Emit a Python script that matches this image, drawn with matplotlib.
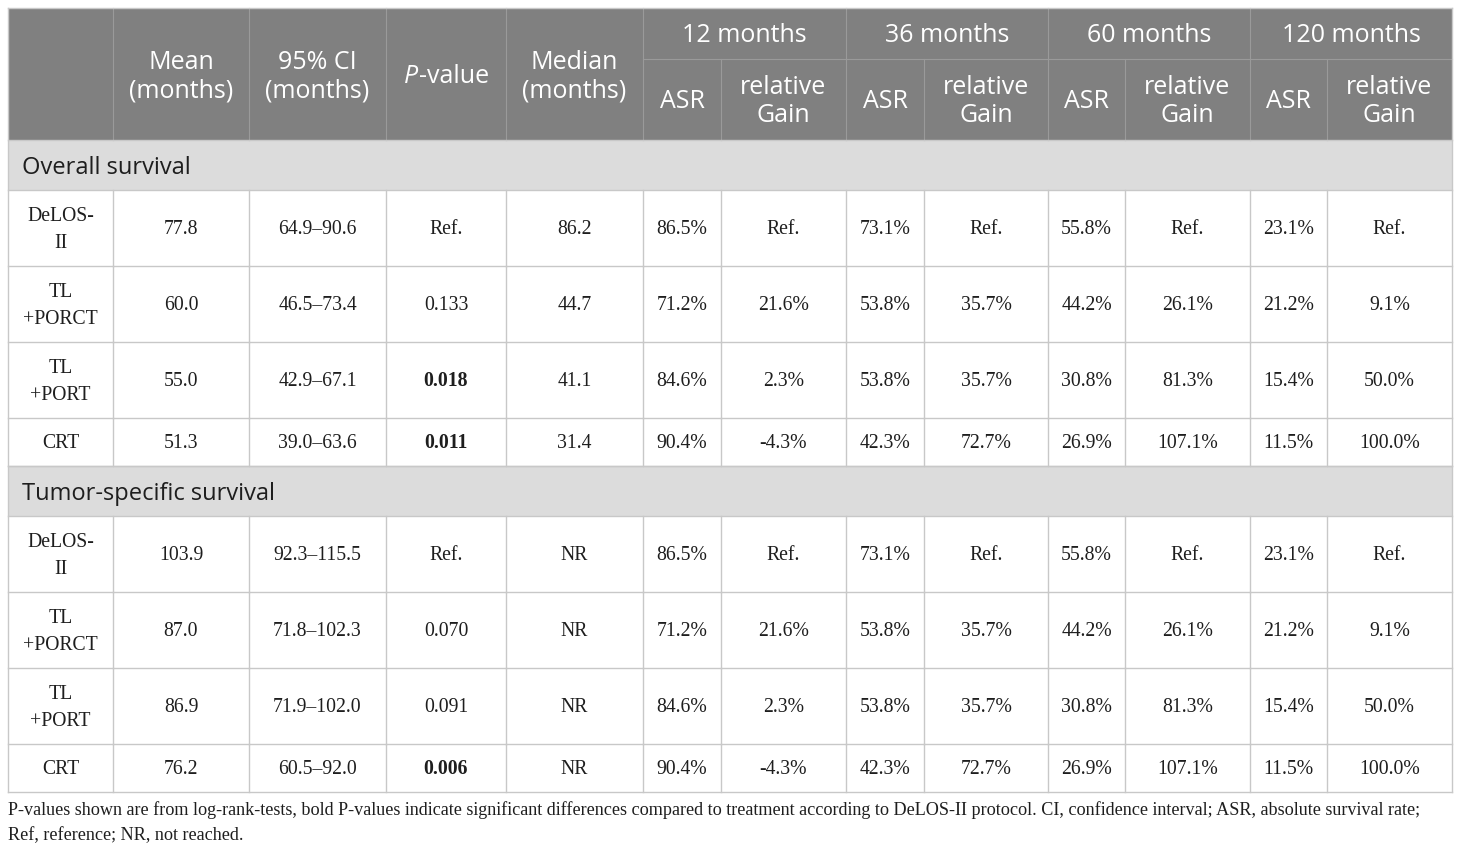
import matplotlib
matplotlib.use("Agg")
import matplotlib.pyplot as plt
from matplotlib.patches import Rectangle

# ---- data ----
groups = ["Overall survival", "Tumor-specific survival"]
treatments = ["DeLOS-\nII", "TL\n+PORCT", "TL\n+PORT", "CRT"]

os_mean = ["77.8", "60.0", "55.0", "51.3"]
os_ci = ["64.9–90.6", "46.5–73.4", "42.9–67.1", "39.0–63.6"]
os_p = ["Ref.", "0.133", "0.018", "0.011"]
os_median = ["86.2", "44.7", "41.1", "31.4"]

tss_mean = ["103.9", "87.0", "86.9", "76.2"]
tss_ci = ["92.3–115.5", "71.8–102.3", "71.9–102.0", "60.5–92.0"]
tss_p = ["Ref.", "0.070", "0.091", "0.006"]
tss_median = ["NR", "NR", "NR", "NR"]

asr_12 = ["86.5%", "71.2%", "84.6%", "90.4%"]
gain_12 = ["Ref.", "21.6%", "2.3%", "-4.3%"]
asr_36 = ["73.1%", "53.8%", "53.8%", "42.3%"]
gain_36 = ["Ref.", "35.7%", "35.7%", "72.7%"]
asr_60 = ["55.8%", "44.2%", "30.8%", "26.9%"]
gain_60 = ["Ref.", "26.1%", "81.3%", "107.1%"]
asr_120 = ["23.1%", "21.2%", "15.4%", "11.5%"]
gain_120 = ["Ref.", "9.1%", "50.0%", "100.0%"]

col_heads = ["", "Mean\n(months)", "95% CI\n(months)", "P-value", "Median\n(months)"]
time_heads = ["12 months", "36 months", "60 months", "120 months"]
sub_heads = ["ASR", "relative\nGain"]

footnote = ["P-values shown are from log-rank-tests, bold P-values indicate significant differences "
            "compared to treatment according to DeLOS-II protocol. CI, confidence interval; ASR, absolute survival rate;",
            "Ref, reference; NR, not reached."]

# ---- layout (pixels) ----
xs = [8, 113, 249, 386, 506, 643, 721, 846, 924, 1048, 1125, 1250, 1327, 1452]
y_top, y_mid, y_head = 8, 59, 140
sec_h = 50
row_h = [76, 76, 76, 48]

HEAD_BG = "#808080"
SEC_BG = "#dcdcdc"
GRID = "#c8c8c8"
HGRID = "#9a9a9a"
TXT = "#1e1e1e"
SANS = "Open Sans"
SERIF = "Liberation Serif"
HSIZE = 18

fig = plt.figure(figsize=(14.6, 8.52), dpi=100)
ax = fig.add_axes([0, 0, 1, 1])
ax.set_xlim(0, 1460)
ax.set_ylim(852, 0)
ax.axis("off")
renderer = fig.canvas.get_renderer()


def put(x, yc, s, fam, size, col, cap, gap, weight="normal", ha="center"):
    lines = s.split("\n")
    n = len(lines)
    for i, ln in enumerate(lines):
        yb = yc + (i - (n - 1) / 2) * gap + cap / 2
        ax.text(x, yb, ln, family=fam, fontsize=size, color=col, ha=ha, va="baseline",
                weight=weight)


def head(x, yc, s):
    if s == "P-value":
        # italic P followed by regular "-value", centred as a whole
        yb = yc + 9
        a = ax.text(x, yb, "P", family=SANS, fontsize=HSIZE, color="white", ha="left",
                    va="baseline", style="italic")
        b = ax.text(x, yb, "-value", family=SANS, fontsize=HSIZE, color="white", ha="left",
                    va="baseline")
        wa = a.get_window_extent(renderer).width
        wb = b.get_window_extent(renderer).width
        x0 = x - (wa + wb) / 2
        a.set_x(x0)
        b.set_x(x0 + wa + 1)
        return
    put(x, yc, s, SANS, HSIZE, "white", 18, 28)


# header background
ax.add_patch(Rectangle((xs[0], y_top), xs[-1] - xs[0], y_head - y_top, color=HEAD_BG, lw=0))

for i, h in enumerate(col_heads):
    head((xs[i] + xs[i + 1]) / 2, (y_top + y_head) / 2, h)

for k, h in enumerate(time_heads):
    x0, x1 = xs[5 + 2 * k], xs[7 + 2 * k]
    head((x0 + x1) / 2, (y_top + y_mid) / 2, h)
    for j, sh in enumerate(sub_heads):
        xa, xb = xs[5 + 2 * k + j], xs[6 + 2 * k + j]
        head((xa + xb) / 2, (y_mid + y_head) / 2, sh)

# header inner lines
for i in range(1, len(xs) - 1):
    top = y_top if (i <= 5 or (i - 5) % 2 == 0) else y_mid
    ax.plot([xs[i], xs[i]], [top, y_head], color=HGRID, lw=0.8)
ax.plot([xs[5], xs[-1]], [y_mid, y_mid], color=HGRID, lw=0.8)

# body
blocks = [
    (os_mean, os_ci, os_p, os_median),
    (tss_mean, tss_ci, tss_p, tss_median),
]
y = y_head
hlines = [y_top]
for g, (mean, ci, pv, med) in enumerate(blocks):
    ax.add_patch(Rectangle((xs[0], y), xs[-1] - xs[0], sec_h, color=SEC_BG, lw=0))
    put(xs[0] + 14, y + sec_h / 2, groups[g], SANS, 17, TXT, 17, 27, ha="left")
    hlines.append(y)
    y += sec_h
    hlines.append(y)
    for r in range(len(treatments)):
        cells = [treatments[r], mean[r], ci[r], pv[r], med[r],
                 asr_12[r], gain_12[r], asr_36[r], gain_36[r],
                 asr_60[r], gain_60[r], asr_120[r], gain_120[r]]
        yc = y + row_h[r] / 2
        for c, s in enumerate(cells):
            bold = c == 3 and s != "Ref." and float(s) < 0.05
            put((xs[c] + xs[c + 1]) / 2, yc, s, SERIF, 14.2, TXT, 13, 27,
                weight="bold" if bold else "normal")
        for c in range(1, len(xs) - 1):
            ax.plot([xs[c], xs[c]], [y, y + row_h[r]], color=GRID, lw=1)
        y += row_h[r]
        hlines.append(y)

for yy in hlines:
    ax.plot([xs[0], xs[-1]], [yy, yy], color=GRID, lw=1)
ax.plot([xs[0], xs[0]], [y_top, y], color=GRID, lw=1)
ax.plot([xs[-1], xs[-1]], [y_top, y], color=GRID, lw=1)

for i, ln in enumerate(footnote):
    ax.text(8, 815 + 25 * i, ln, family=SERIF, fontsize=13.1, color=TXT, ha="left", va="baseline")

fig.savefig("out.png", dpi=100)
